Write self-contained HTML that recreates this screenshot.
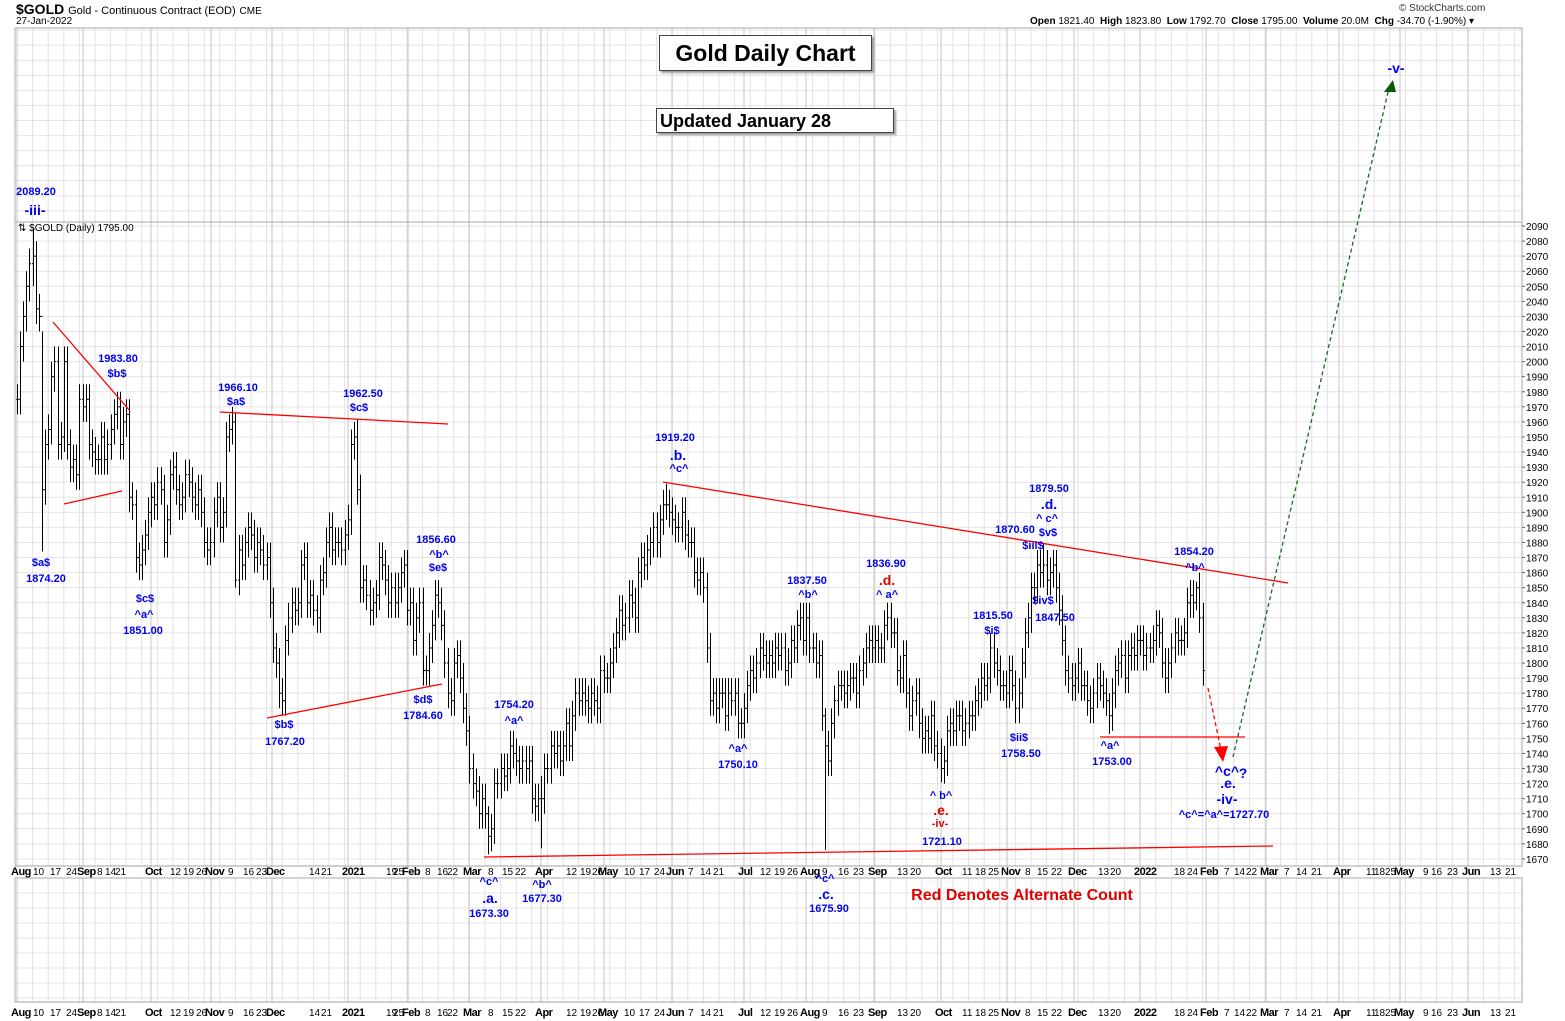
<!DOCTYPE html>
<html><head><meta charset="utf-8">
<style>
body{margin:0;background:#fff;width:1565px;height:1021px;overflow:hidden;font-family:"Liberation Sans",sans-serif;}
#wrap{position:relative;width:1565px;height:1021px;}
.t{position:absolute;white-space:nowrap;font-weight:bold;color:#0000ee;font-size:11px;transform:translateX(-50%);line-height:1;}
.r{color:#e00000;}
.big{font-size:14px;}
.box{position:absolute;background:#fff;border:1px solid #444;box-shadow:2px 2px 2px #999;font-weight:bold;color:#000;}
</style></head><body>
<div id="wrap">
<svg id="svg" width="1565" height="1021" style="position:absolute;left:0;top:0"></svg>
<div style="position:absolute;left:16px;top:1px;font-size:14px;font-weight:bold">$GOLD <span style="font-size:11px;font-weight:normal">Gold - Continuous Contract (EOD)</span> <span style="font-size:10px;font-weight:normal">CME</span></div>
<div style="position:absolute;left:16px;top:16px;font-size:10px">27-Jan-2022</div>
<div style="position:absolute;left:1399px;top:3px;font-size:10px;color:#333">© StockCharts.com</div>
<div style="position:absolute;left:1030px;top:16px;font-size:10px"><b>Open</b> 1821.40 &nbsp;<b>High</b> 1823.80 &nbsp;<b>Low</b> 1792.70 &nbsp;<b>Close</b> 1795.00 &nbsp;<b>Volume</b> 20.0M &nbsp;<b>Chg</b> -34.70 (-1.90%) ▾</div>
<div style="position:absolute;left:18px;top:223px;font-size:10px">⇅ $GOLD (Daily) 1795.00</div>
<div class="box" style="left:659px;top:35px;width:211px;height:34px;font-size:23px;text-align:center;line-height:34px">Gold Daily Chart</div>
<div class="box" style="left:656px;top:108px;width:238px;height:25px;font-size:18px;line-height:25px;padding-left:3px;box-sizing:border-box">Updated January 28</div>
<div class="t r" style="left:1022px;top:888px;font-size:16px">Red Denotes Alternate Count</div>
<div id="ann"></div>
</div>
<script>
const closes=[1975,2010,2030,2050,2065,2070,2035,2030,1915,1945,1955,1990,2000,1945,1950,2000,1945,1930,1935,1925,1975,1970,1975,1945,1940,1935,1935,1950,1935,1945,1955,1965,1970,1945,1960,1965,1910,1905,1870,1865,1875,1885,1900,1910,1905,1920,1915,1880,1895,1925,1930,1915,1905,1910,1925,1920,1910,1905,1915,1900,1880,1875,1880,1900,1910,1890,1900,1950,1955,1960,1855,1875,1865,1880,1890,1885,1870,1880,1875,1865,1870,1840,1810,1800,1780,1775,1815,1830,1840,1835,1840,1865,1870,1840,1845,1835,1830,1855,1860,1880,1890,1875,1880,1880,1875,1885,1895,1945,1950,1915,1850,1855,1845,1835,1840,1845,1870,1865,1855,1840,1850,1840,1850,1860,1865,1835,1840,1815,1830,1840,1795,1795,1810,1825,1845,1840,1825,1800,1780,1775,1800,1805,1790,1770,1755,1730,1720,1715,1700,1710,1700,1685,1690,1720,1720,1730,1725,1730,1745,1740,1735,1730,1735,1730,1735,1710,1705,1710,1710,1730,1730,1745,1740,1745,1735,1745,1760,1745,1765,1780,1775,1780,1775,1770,1780,1775,1770,1795,1790,1790,1800,1810,1820,1835,1825,1830,1845,1840,1830,1860,1870,1865,1875,1880,1890,1880,1895,1905,1905,1900,1895,1890,1890,1900,1885,1880,1880,1860,1855,1860,1850,1810,1775,1780,1770,1780,1780,1765,1780,1775,1780,1760,1760,1770,1785,1795,1790,1800,1810,1805,1800,1805,1800,1810,1805,1810,1795,1800,1815,1810,1825,1830,1815,1830,1810,1810,1800,1805,1765,1745,1735,1760,1775,1785,1785,1780,1785,1790,1790,1780,1795,1800,1810,1815,1810,1815,1810,1810,1825,1830,1820,1820,1795,1790,1805,1780,1765,1775,1780,1760,1750,1755,1750,1765,1745,1740,1730,1735,1755,1760,1755,1765,1765,1755,1760,1765,1765,1775,1780,1790,1785,1790,1810,1800,1795,1785,1785,1780,1795,1785,1770,1780,1800,1820,1830,1850,1850,1865,1860,1865,1855,1860,1865,1850,1835,1815,1795,1790,1785,1790,1800,1785,1785,1775,1770,1780,1790,1785,1780,1775,1765,1780,1795,1800,1805,1790,1805,1810,1805,1815,1815,1805,1810,1810,1815,1825,1820,1800,1790,1800,1810,1820,1815,1815,1820,1840,1845,1840,1850,1830,1795];
const extremeIdx=[5,8,70,85,109,151,168,208,259,296,329,350,378];
const extremeHigh=[2089,2020,1966,1790,1962,1705,1725,1919,1770,1750,1879,1780,1854];
const extremeLow=[2050,1874,1850,1765,1905,1673,1677,1895,1676,1721,1850,1753,1835];
const priceTicks=[2090,2080,2070,2060,2050,2040,2030,2020,2010,2000,1990,1980,1970,1960,1950,1940,1930,1920,1910,1900,1890,1880,1870,1860,1850,1840,1830,1820,1810,1800,1790,1780,1770,1760,1750,1740,1730,1720,1710,1700,1690,1680,1670];
const monthLabels=["Aug","Sep","Oct","Nov","Dec","2021","Feb","Mar","Apr","May","Jun","Jul","Aug","Sep","Oct","Nov","Dec","2022","Feb","Mar","Apr","May","Jun"];
const monthX=[11,77,145,205,266,342,402,463,535,598,666,738,800,868,935,1001,1068,1134,1200,1260,1333,1394,1462];
const dayLabels=[["10",33],["17",50],["24",66],["8",97],["14",105],["21",115],["12",170],["19",183],["26",196],["9",228],["16",243],["23",256],["14",309],["21",321],["19",386],["25",393],["8",425],["16",437],["22",447],["8",488],["15",502],["22",515],["12",566],["19",580],["26",592],["10",624],["17",639],["24",654],["7",688],["14",700],["21",713],["12",760],["19",774],["26",787],["9",822],["16",838],["23",853],["13",897],["20",910],["11",962],["18",975],["25",988],["8",1025],["15",1037],["22",1051],["13",1098],["20",1110],["18",1174],["24",1187],["7",1224],["14",1234],["22",1246],["7",1284],["14",1296],["21",1311],["11",1366],["18",1374],["25",1385],["9",1423],["16",1431],["23",1447],["13",1490],["21",1505]];

const NS="http://www.w3.org/2000/svg";
const svg=document.getElementById('svg');
const L=15,R=1522;
const yv=v=>226+(2090-v)*1.507;
const xi=i=>17+i*3.12;
function el(tag,a,p){const e=document.createElementNS(NS,tag);for(const k in a)e.setAttribute(k,a[k]);(p||svg).appendChild(e);return e;}
const g=el('g',{});


for(let v=2090+10*13;v>=1670;v-=10){const y=yv(v);if(y<28)continue;el('line',{x1:L,x2:R,y1:y,y2:y,stroke:'#e4e4e4','stroke-width':1},g);}
for(let y=893;y<1002;y+=15)el('line',{x1:L,x2:R,y1:y,y2:y,stroke:'#e4e4e4'},g);
for(let x=17;x<R;x+=15.6){el('line',{x1:x,x2:x,y1:28,y2:866,stroke:'#e2e2e2'},g);el('line',{x1:x,x2:x,y1:878,y2:1002,stroke:'#e2e2e2'},g);}
monthX.forEach(m=>{const x=m+6;el('line',{x1:x,x2:x,y1:28,y2:866,stroke:'#c4c4c4'},g);el('line',{x1:x,x2:x,y1:878,y2:1002,stroke:'#c4c4c4'},g);});
el('rect',{x:L,y:28,width:R-L,height:838,fill:'none',stroke:'#aaa'},g);
el('line',{x1:L,x2:R,y1:222,y2:222,stroke:'#aaa'},g);
el('rect',{x:L,y:878,width:R-L,height:124,fill:'none',stroke:'#aaa'},g);
el('line',{x1:L,x2:R,y1:866,y2:866,stroke:'#999','stroke-dasharray':'1,1'},g);
el('line',{x1:L,x2:R,y1:1002,y2:1002,stroke:'#999','stroke-dasharray':'1,1'},g);
priceTicks.forEach(v=>{const y=yv(v);el('line',{x1:R,x2:R+3,y1:y,y2:y,stroke:'#666'});const t=el('text',{x:R+4,y:y+4,'font-size':10,'font-family':'Liberation Sans'});t.textContent=v;});
[871,1012].forEach(yy=>{
 monthLabels.forEach((m,i)=>{const t=el('text',{x:monthX[i],y:yy+4,'font-size':11,'font-weight':'bold','font-family':'Liberation Sans','letter-spacing':'-0.5'});t.textContent=m;});
 dayLabels.forEach(d=>{const t=el('text',{x:d[1],y:yy+4,'font-size':10,'font-family':'Liberation Sans'});t.textContent=d[0];});
});
const bars=el('g',{stroke:'#000','stroke-width':1});


closes.forEach((c,i)=>{
 const o=i>0?closes[i-1]:c;
 let hi=Math.max(o,c)+10, lo=Math.min(o,c)-10;
 const k=extremeIdx.indexOf(i); if(k>=0){hi=extremeHigh[k];lo=extremeLow[k];}
 const x=Math.round(xi(i))+0.5;
 const b=el('g',{},bars);
 
 
 el('line',{x1:x,x2:x,y1:yv(hi),y2:yv(lo)},b);
 el('line',{x1:x-1.5,x2:x,y1:yv(o),y2:yv(o)},b);
 el('line',{x1:x,x2:x+1.5,y1:yv(c),y2:yv(c)},b);
});
const tl=[[53,322,130,411],[64,504,122,491],[220,412,448,424],[267,718,442,684],[663,482,1288,583],[484,857,1273,846],[1100,737,1245,737]];
tl.forEach(a=>{const l=el('line',{x1:a[0],y1:a[1],x2:a[2],y2:a[3],stroke:'#f00','stroke-width':1.3});});
const a1=el('line',{x1:1208,y1:688,x2:1221,y2:750,stroke:'#f00','stroke-width':1.3,'stroke-dasharray':'4,3'});

el('path',{d:'M1214,747 L1228,746 L1223,762 z',fill:'#f00'});
const a2=el('line',{x1:1233,y1:757,x2:1389,y2:88,stroke:'#1a6a1a','stroke-width':1.3,'stroke-dasharray':'4,3'});

el('path',{d:'M1384,92 L1396,92 L1393,80 z',fill:'#0a5a0a'});
const ann=[["2089.20",36,187,""],["-iii-",35,203,"big"],["1983.80",118,354,""],["$b$",117,369,""],["$a$",41,558,""],["1874.20",46,574,""],["$c$",145,594,""],["^a^",144,610,""],["1851.00",143,626,""],["1966.10",238,383,""],["$a$",236,397,""],["1962.50",363,389,""],["$c$",359,403,""],["$b$",284,720,""],["1767.20",285,737,""],["1856.60",436,535,""],["^b^",439,550,""],["$e$",438,563,""],["$d$",423,695,""],["1784.60",423,711,""],["1754.20",514,700,""],["^a^",514,716,""],["^c^",489,877,""],[".a.",490,891,"big"],["1673.30",489,909,""],["^b^",542,880,""],["1677.30",542,894,""],["1919.20",675,433,""],[".b.",678,448,"big"],["^c^",679,464,""],["^a^",738,744,""],["1750.10",738,760,""],["1837.50",807,576,""],["^b^",808,590,""],["^c^",825,874,""],[".c.",826,887,"big"],["1675.90",829,904,""],["1836.90",886,559,""],[".d.",887,573,"big r"],["^ a^",887,590,""],["^ b^",941,791,""],[".e.",941,803,"big r"],["-iv-",940,819,"r"],["1721.10",942,837,""],["1815.50",993,611,""],["$i$",992,626,""],["$ii$",1019,733,""],["1758.50",1021,749,""],["1879.50",1049,484,""],[".d.",1049,497,"big"],["^ c^",1047,514,""],["$v$",1048,528,""],["1870.60",1015,525,""],["$iii$",1033,541,""],["$iv$",1043,596,""],["1847.50",1055,613,""],["^a^",1110,741,""],["1753.00",1112,757,""],["1854.20",1194,547,""],["^b^",1195,563,""],["^c^",1227,764,"big"],["?",1243,766,"big"],[".e.",1228,776,"big"],["-iv-",1227,792,"big"],["^c^=^a^=1727.70",1224,810,""],["-v-",1396,61,"big"]];
const annDiv=document.getElementById('ann');
ann.forEach(a=>{const e=document.createElement('div');e.className='t '+a[3];e.style.left=a[1]+'px';e.style.top=a[2]+'px';e.textContent=a[0];


annDiv.appendChild(e);});
</script>
</body></html>
